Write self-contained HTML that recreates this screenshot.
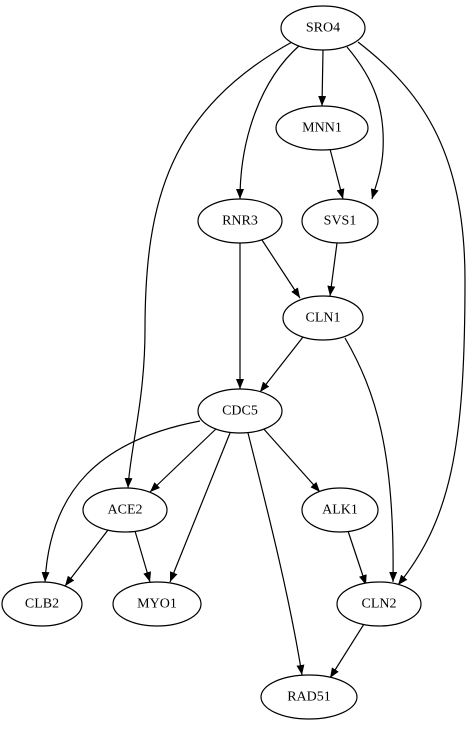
<!DOCTYPE html>
<html><head><style>body{margin:0;background:#fff}</style></head><body>
<svg width="474" height="731" viewBox="0 0 474 731" xmlns="http://www.w3.org/2000/svg">
<defs><marker id="a" markerWidth="10" markerHeight="8" refX="10" refY="4" orient="auto" markerUnits="userSpaceOnUse"><path d="M0,0 L10,4 L0,8 z" fill="#000"/></marker></defs>
<g fill="none" stroke="#000" stroke-width="1.2" marker-end="url(#a)">
<path d="M323,50 L322,106"/>
<path d="M347,47 C375,80 385,110 383,150 C382,170 376,185 372,199"/>
<path d="M300,45 C260,80 240,140 240,199"/>
<path d="M292,42 C170,110 145,200 145,330 C145,400 130,450 128,488"/>
<path d="M358,42 C420,90 465,150 465,280 C465,450 450,520 398,585"/>
<path d="M330,149 L343,199"/>
<path d="M262,240 L300,298"/>
<path d="M240,243 L240,389"/>
<path d="M337,243 L330,296"/>
<path d="M303,337 L260,392"/>
<path d="M345,338 C375,390 395,450 393,582"/>
<path d="M218,427 L150,492"/>
<path d="M262,427 L320,492"/>
<path d="M200,421 C100,440 50,490 45,582"/>
<path d="M230,433 L170,582"/>
<path d="M248,433 C270,520 290,600 302,675"/>
<path d="M108,530 L65,586"/>
<path d="M135,531 L150,582"/>
<path d="M348,531 L366,585"/>
<path d="M364,624 L330,678"/>
</g>
<g fill="#fff" stroke="#000" stroke-width="1.2">
<ellipse cx="323" cy="28" rx="42" ry="22"/>
<ellipse cx="322" cy="128" rx="46" ry="22"/>
<ellipse cx="240" cy="221" rx="42" ry="22"/>
<ellipse cx="340" cy="221" rx="38" ry="22"/>
<ellipse cx="323" cy="318" rx="40" ry="22"/>
<ellipse cx="240" cy="411" rx="42" ry="22"/>
<ellipse cx="125" cy="510" rx="42" ry="22"/>
<ellipse cx="340" cy="510" rx="38" ry="22"/>
<ellipse cx="42" cy="604" rx="40" ry="22"/>
<ellipse cx="157" cy="604" rx="44" ry="22"/>
<ellipse cx="379" cy="604" rx="42" ry="22"/>
<ellipse cx="309" cy="697" rx="48" ry="22"/>
</g>
<g font-family="Liberation Serif, serif" font-size="14" text-anchor="middle" dominant-baseline="central">
<text x="323" y="28">SRO4</text>
<text x="322" y="128">MNN1</text>
<text x="240" y="221">RNR3</text>
<text x="340" y="221">SVS1</text>
<text x="323" y="318">CLN1</text>
<text x="240" y="411">CDC5</text>
<text x="125" y="510">ACE2</text>
<text x="340" y="510">ALK1</text>
<text x="42" y="604">CLB2</text>
<text x="157" y="604">MYO1</text>
<text x="379" y="604">CLN2</text>
<text x="309" y="697">RAD51</text>
</g>
</svg>
</body></html>
